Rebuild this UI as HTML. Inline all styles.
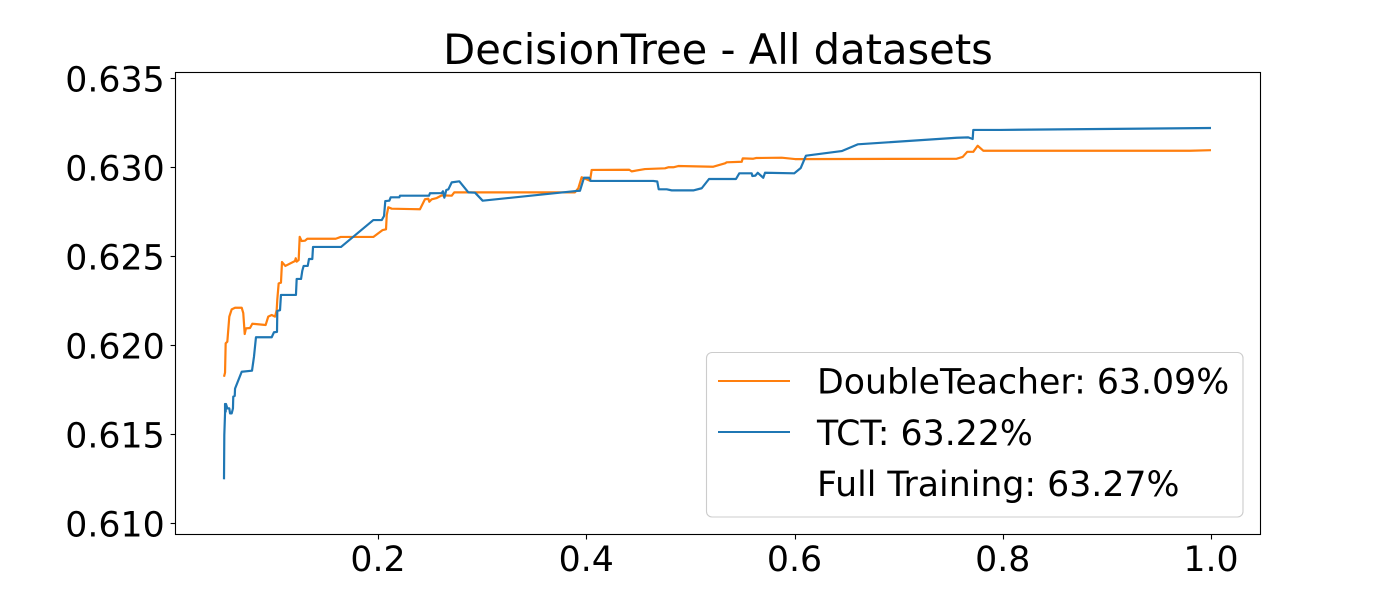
<!DOCTYPE html>
<html lang="en">
<head>
<meta charset="utf-8">
<title>DecisionTree - All datasets</title>
<style>
html,body{margin:0;padding:0;background:#fff;}
svg{display:block;font-family:"DejaVu Sans",sans-serif;}
</style>
</head>
<body>
<svg id="chart" width="1400" height="600" viewBox="0 0 1400 600" xmlns="http://www.w3.org/2000/svg">
  <rect x="0" y="0" width="1400" height="600" fill="#ffffff"/>
  <text x="718" y="64" font-size="41.67" text-anchor="middle" fill="#000">DecisionTree - All datasets</text>
  <g id="ticks"></g>
  <g id="series"></g>
  <rect x="175.5" y="72.5" width="1085" height="462" fill="none" stroke="#000" stroke-width="1.11"/>
  <g>
    <rect x="706.5" y="352.5" width="536.5" height="164.5" rx="5.5" ry="5.5" fill="#ffffff" fill-opacity="0.8" stroke="#cccccc" stroke-width="1.11"/>
    <line x1="718" y1="381" x2="790" y2="381" stroke="#ff7f0e" stroke-width="2.08"/>
    <text x="817" y="393.5" font-size="34.72" fill="#000">DoubleTeacher: 63.09%</text>
    <line x1="718" y1="432" x2="790" y2="432" stroke="#1f77b4" stroke-width="2.08"/>
    <text x="817" y="445" font-size="34.72" fill="#000">TCT: 63.22%</text>
    <text x="817" y="496" font-size="34.72" fill="#000">Full Training: 63.27%</text>
  </g>
</svg>
<script>
const xTickValues = [0.2, 0.4, 0.6, 0.8, 1.0];
const xTickLabels = ["0.2", "0.4", "0.6", "0.8", "1.0"];
const yTickValues = [0.610, 0.615, 0.620, 0.625, 0.630, 0.635];
const yTickLabels = ["0.610", "0.615", "0.620", "0.625", "0.630", "0.635"];

const doubleTeacherX = [.0521,.0531,.0537,.0553,.0572,.0595,.0627,.0691,.0706,.0720,.0732,.0771,.0793,.0921,.0946,.0979,.1011,.1027,.1033,.1046,.1068,.1078,.1110,.1203,.1210,.1219,.1238,.1248,.1267,.1299,.1321,.1594,.1642,.1955,.2045,.2077,.2084,.2099,.2132,.2307,.2403,.2451,.2483,.2493,.2516,.2564,.2612,.2708,.2733,.3892,.3924,.3956,.4036,.4052,.4413,.4436,.4564,.4756,.4788,.4836,.4884,.5220,.5333,.5349,.5493,.5503,.5604,.5630,.5877,.6005,.7558,.7615,.7659,.7717,.7759,.7813,.9798,1.0];
const doubleTeacherY = [.61825,.61848,.62013,.62022,.62163,.62204,.62213,.62213,.62183,.62065,.62097,.62099,.62123,.62116,.62163,.62172,.62163,.622,.6226,.6235,.62354,.6247,.62448,.62476,.62491,.62472,.62481,.62612,.62588,.6259,.62601,.62601,.62611,.62611,.6265,.62654,.62735,.62778,.6277,.62768,.62767,.62823,.62826,.62809,.62823,.6283,.62845,.62843,.62862,.62862,.62885,.62947,.62927,.62988,.62989,.6298,.62993,.62997,.63003,.63003,.6301,.63006,.63025,.63031,.63034,.63053,.63051,.63055,.63057,.63049,.63051,.63061,.6309,.6309,.63124,.63096,.63096,.63099];

const tctX = [.0521,.0524,.0531,.0531,.0537,.0540,.0553,.0572,.0579,.0595,.0607,.0610,.0624,.0627,.0691,.0790,.0809,.0828,.0979,.1001,.1030,.1033,.1059,.1068,.1212,.1219,.1261,.1273,.1286,.1325,.1337,.1369,.1376,.1645,.1955,.2036,.2058,.2070,.2109,.2122,.2205,.2211,.2490,.2499,.2612,.2624,.2637,.2656,.2676,.2708,.2781,.2867,.2932,.3005,.3908,.3940,.3978,.4026,.4043,.4644,.4682,.4696,.4773,.4821,.5028,.5109,.5179,.5438,.5470,.5589,.5595,.5624,.5647,.5700,.5717,.5998,.6060,.6110,.6453,.6607,.7558,.7669,.7711,.7717,.7974,1.0];
const tctY = [.61248,.61497,.61619,.61672,.61628,.61672,.61647,.61647,.61619,.61619,.61647,.61713,.61717,.61758,.61853,.61859,.61938,.62047,.62047,.62075,.62077,.62195,.62199,.62285,.62285,.62375,.62375,.62421,.62448,.62448,.62487,.62487,.62555,.62555,.62706,.62706,.62729,.62813,.62815,.62834,.62834,.62843,.62843,.62857,.62858,.62868,.62832,.62875,.62879,.62918,.62924,.62862,.6286,.62815,.6287,.62871,.62944,.62944,.62926,.62926,.62923,.62879,.62879,.62873,.62873,.62885,.62937,.62937,.62969,.62969,.62954,.62956,.62972,.62944,.62972,.62969,.62999,.63068,.63094,.63132,.63169,.63171,.63162,.63213,.63213,.63224];

const SVG_NS = "http://www.w3.org/2000/svg";
function xScale(v) { return 378 + (v - 0.2) * 1041.25; }
function yScale(v) { return 523.4 - (v - 0.61) * 17780; }

const tickGroup = document.getElementById("ticks");
const seriesGroup = document.getElementById("series");

xTickValues.forEach(function (v, i) {
  const px = Math.round(xScale(v)) + 0.5;
  const tick = document.createElementNS(SVG_NS, "line");
  
  
  tick.setAttribute("x1", px); tick.setAttribute("x2", px);
  tick.setAttribute("y1", 534.5); tick.setAttribute("y2", 539.5);
  tick.setAttribute("stroke", "#000"); tick.setAttribute("stroke-width", "1.11");
  tickGroup.appendChild(tick);
  const label = document.createElementNS(SVG_NS, "text");
  
  
  label.setAttribute("x", xScale(v)); label.setAttribute("y", 571);
  label.setAttribute("font-size", "34.72"); label.setAttribute("text-anchor", "middle");
  label.textContent = xTickLabels[i];
  tickGroup.appendChild(label);
});

yTickValues.forEach(function (v, i) {
  const py = Math.floor(yScale(v)) + 0.5;
  const tick = document.createElementNS(SVG_NS, "line");
  
  
  tick.setAttribute("x1", 170.6); tick.setAttribute("x2", 175.5);
  tick.setAttribute("y1", py); tick.setAttribute("y2", py);
  tick.setAttribute("stroke", "#000"); tick.setAttribute("stroke-width", "1.11");
  tickGroup.appendChild(tick);
  const label = document.createElementNS(SVG_NS, "text");
  
  
  label.setAttribute("x", 164.7); label.setAttribute("y", py + 13.2);
  label.setAttribute("font-size", "34.72"); label.setAttribute("text-anchor", "end");
  label.textContent = yTickLabels[i];
  tickGroup.appendChild(label);
});

function pointsFor(xs, ys) {
  return xs.map(function (x, i) { return xScale(x).toFixed(2) + "," + yScale(ys[i]).toFixed(2); }).join(" ");
}

const doubleTeacherLine = document.createElementNS(SVG_NS, "polyline");


doubleTeacherLine.setAttribute("points", pointsFor(doubleTeacherX, doubleTeacherY));
doubleTeacherLine.setAttribute("fill", "none");
doubleTeacherLine.setAttribute("stroke", "#ff7f0e");
doubleTeacherLine.setAttribute("stroke-width", "2.2");
doubleTeacherLine.setAttribute("stroke-linejoin", "round");
seriesGroup.appendChild(doubleTeacherLine);

const tctLine = document.createElementNS(SVG_NS, "polyline");


tctLine.setAttribute("points", pointsFor(tctX, tctY));
tctLine.setAttribute("fill", "none");
tctLine.setAttribute("stroke", "#1f77b4");
tctLine.setAttribute("stroke-width", "2.2");
tctLine.setAttribute("stroke-linejoin", "round");
seriesGroup.appendChild(tctLine);
</script>
</body>
</html>
